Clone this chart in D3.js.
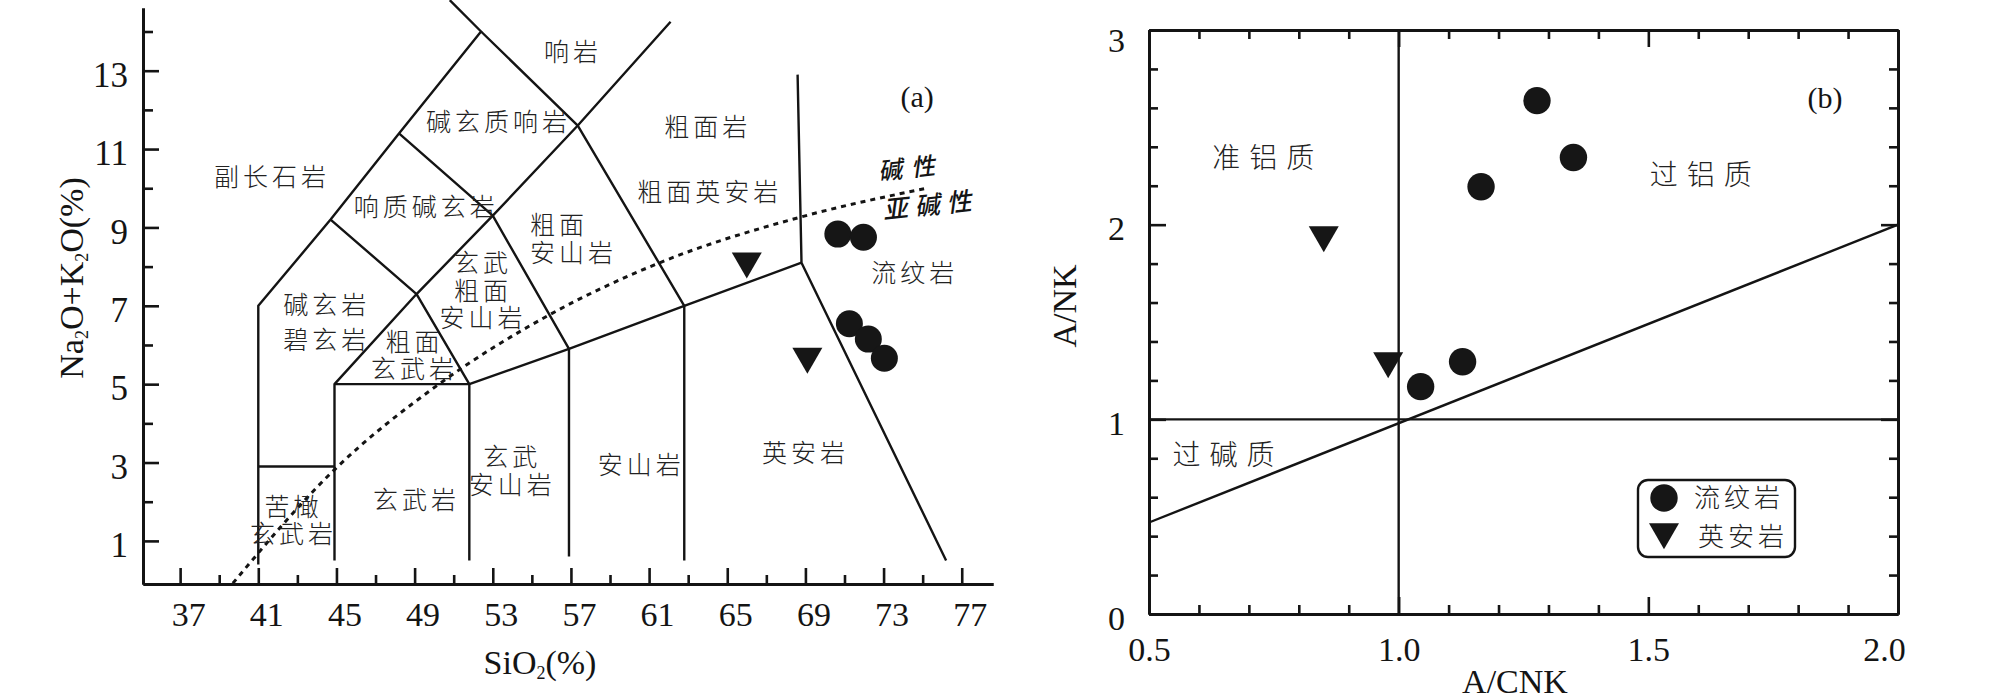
<!DOCTYPE html>
<html>
<head>
<meta charset="utf-8">
<script src="https://cdnjs.cloudflare.com/ajax/libs/d3/7.8.5/d3.min.js"></script>
<style>
body { margin: 0; background: #fff; }
svg { display: block; }
</style>
</head>
<body>
<svg width="2008" height="696"></svg>
<script>
// ---- panel (a): TAS diagram ----
var siTicks = [37, 41, 45, 49, 53, 57, 61, 65, 69, 73, 77];
var siMinor = [39, 43, 47, 51, 55, 59, 63, 67, 71, 75];
var alkTicks = [1, 3, 5, 7, 9, 11, 13];
var alkMinor = [2, 4, 6, 8, 10, 12, 14];

// field boundaries (SiO2, Na2O+K2O)
var tasLines = [
  [[41, 0.4], [41, 7], [44.7, 9.2], [48.2, 11.4], [52.4, 14], [50.8, 14.8]],
  [[41, 2.9], [44.9, 2.9]],
  [[44.9, 0.5], [44.9, 5], [51.8, 5], [51.8, 0.5]],
  [[44.9, 5], [49.1, 7.3], [51.8, 5]],
  [[44.7, 9.2], [49.1, 7.3], [53, 9.3], [57.35, 11.6], [62.1, 14.25]],
  [[48.2, 11.4], [53, 9.3], [56.9, 5.9], [56.9, 0.6]],
  [[51.8, 5], [56.9, 5.9], [62.8, 7], [68.8, 8.1]],
  [[52.4, 14], [57.35, 11.6], [62.8, 7], [62.8, 0.5]],
  [[68.6, 12.9], [68.8, 8.1], [76.2, 0.5]]
];
var alkalineLine = [[39.7, -0.08], [44.8, 2.77], [50.3, 5.02], [55.9, 6.77], [61.5, 8.09], [68.8, 9.27], [75.2, 10.0]];

var rhyoSi = [70.66, 71.97, 71.25, 72.22, 73.04];
var rhyoAlk = [8.83, 8.75, 6.54, 6.15, 5.66];
var daciteSi = [66.0, 69.1];
var daciteAlk = [8.14, 5.71];

// field names with their place in data units
var tasLabels = [
  {t: ["响岩"], x: 57.1, y: 13.48},
  {t: ["碱玄质响岩"], x: 53.3, y: 11.69},
  {t: ["副长石岩"], x: 41.7, y: 10.29},
  {t: ["响质碱玄岩"], x: 49.6, y: 9.52},
  {t: ["粗面岩"], x: 64.0, y: 11.56},
  {t: ["粗面英安岩"], x: 64.1, y: 9.91},
  {t: ["粗面", "安山岩"], x: 54.9, y: 9.06, anchor: "start"},
  {t: ["玄武", "粗面", "安山岩"], x: 52.5, y: 8.09},
  {t: ["碱玄岩", "碧玄岩"], x: 44.5, y: 7.02, gap: 1.4},
  {t: ["粗面", "玄武岩"], x: 49.0, y: 6.08},
  {t: ["苦橄", "玄武岩"], x: 42.8, y: 1.87},
  {t: ["玄武岩"], x: 49.1, y: 2.05},
  {t: ["玄武", "安山岩"], x: 54.0, y: 3.14},
  {t: ["安山岩"], x: 60.6, y: 2.94},
  {t: ["英安岩"], x: 69.0, y: 3.25},
  {t: ["流纹岩"], x: 74.6, y: 7.84}
];

// ---- panel (b): A/NK vs A/CNK ----
var acnkTicks = [0.5, 1.0, 1.5, 2.0];
var acnkMinor = [0.6, 0.7, 0.8, 0.9, 1.1, 1.2, 1.3, 1.4, 1.6, 1.7, 1.8, 1.9];
var ankTicks = [0, 1, 2, 3];
var ankMinor = [0.2, 0.4, 0.6, 0.8, 1.2, 1.4, 1.6, 1.8, 2.2, 2.4, 2.6, 2.8];
var shandLines = [
  [[1, 0], [1, 3]],
  [[0.5, 1], [2, 1.0]],
  [[0.5, 0.47], [2, 2]]
];
var rhyoACNK = [1.277, 1.165, 1.35, 1.044, 1.128];
var rhyoANK = [2.637, 2.195, 2.345, 1.168, 1.296];
var daciteACNK = [0.85, 0.979];
var daciteANK = [1.947, 1.30];
var shandLabels = [
  {t: ["准铝质"], x: 0.738, y: 2.342},
  {t: ["过铝质"], x: 1.614, y: 2.255},
  {t: ["过碱质"], x: 0.658, y: 0.817}
];
var legendNames = ["流纹岩", "英安岩"];

var serif = "'Liberation Serif', 'DejaVu Serif', serif";
var zh = "'Noto Sans CJK SC', sans-serif";
var ink = "#141414";

var container = d3.select("svg");

function styleAxis(g, fs) {
  g.attr("font-family", serif).attr("font-size", fs);
  g.select(".domain").attr("stroke", ink).attr("stroke-width", 3);
  g.selectAll(".tick line").attr("stroke", ink).attr("stroke-width", 2.6);
  g.selectAll(".tick text").attr("fill", ink).style("font-family", serif).style("font-size", fs + "px");
}

function drawLabels(list, xs, ys, fs, ls) {
  list.forEach(function (d) {
    var txt = container.append("text")
      .attr("text-anchor", d.anchor || "middle")
      .style("font-family", zh).style("font-weight", 300)
      .style("font-size", fs + "px").style("letter-spacing", ls + "px")
      .attr("fill", "#222");
    d.t.forEach(function (line, i) {
      txt.append("tspan").attr("x", xs(d.x)).attr("y", ys(d.y))
        .attr("dy", (0.36 + i * (d.gap || 1.1)) + "em").text(line);
    });
  });
}

var tri = d3.symbol().type(d3.symbolTriangle).size(390);

// ===== panel (a) =====
var xa = d3.scaleLinear().domain([35.1, 78.6]).range([143, 993]);
var ya = d3.scaleLinear().domain([-0.1, 14.6]).range([584, 8]);

var ga = container.append("g").attr("transform", "translate(0,584)")
  .call(d3.axisBottom(xa).tickValues(siMinor).tickSize(-9).tickSizeOuter(0).tickFormat(""));
styleAxis(ga, 34);
ga = container.append("g").attr("transform", "translate(0,584)")
  .call(d3.axisBottom(xa).tickValues(siTicks).tickSize(-16).tickSizeOuter(0).tickPadding(18).tickFormat(d3.format("d")));
styleAxis(ga, 34);
ga.selectAll(".tick text").attr("dx", 8);

ga = container.append("g").attr("transform", "translate(143,0)")
  .call(d3.axisLeft(ya).tickValues(alkMinor).tickSize(-10).tickSizeOuter(0).tickFormat(""));
styleAxis(ga, 34);
ga = container.append("g").attr("transform", "translate(143,0)")
  .call(d3.axisLeft(ya).tickValues(alkTicks).tickSize(-16).tickSizeOuter(0).tickPadding(15).tickFormat(d3.format("d")));
styleAxis(ga, 35);
ga.selectAll(".tick text").attr("dy", "0.45em");

var lineA = d3.line().x(function (d) { return xa(d[0]); }).y(function (d) { return ya(d[1]); });
container.append("g").selectAll("path").data(tasLines).enter().append("path")
  .attr("d", lineA).attr("fill", "none").attr("stroke", ink).attr("stroke-width", 2.4).attr("stroke-linejoin", "round");
container.append("path").datum(alkalineLine)
  .attr("d", lineA.curve(d3.curveMonotoneX)).attr("fill", "none").attr("stroke", ink)
  .attr("stroke-width", 3).attr("stroke-dasharray", "5,5");

drawLabels(tasLabels, xa, ya, 25, 4);

container.append("text").attr("x", xa(74.72)).attr("y", ya(12.33)).attr("dy", "0.35em")
  .attr("text-anchor", "middle").style("font-family", serif).style("font-size", "30px").attr("fill", ink).text("(a)");
container.append("text").attr("transform", "translate(" + xa(74.4) + "," + ya(10.52) + ") rotate(-6)")
  .attr("dy", "0.36em").attr("text-anchor", "middle")
  .style("font-family", zh).style("font-style", "italic").style("font-weight", 500)
  .style("font-size", "24px").style("letter-spacing", "9px").attr("fill", ink).text("碱性");
container.append("text").attr("transform", "translate(" + xa(75.4) + "," + ya(9.57) + ") rotate(-6)")
  .attr("dy", "0.36em").attr("text-anchor", "middle")
  .style("font-family", zh).style("font-style", "italic").style("font-weight", 500)
  .style("font-size", "25px").style("letter-spacing", "7px").attr("fill", ink).text("亚碱性");

container.append("g").selectAll("circle").data(rhyoSi).enter().append("circle")
  .attr("cx", function (d) { return xa(d); })
  .attr("cy", function (d, i) { return ya(rhyoAlk[i]); })
  .attr("r", 13.5).attr("fill", "#161616");
container.append("g").selectAll("path").data(daciteSi).enter().append("path")
  .attr("d", tri)
  .attr("transform", function (d, i) { return "translate(" + xa(d) + "," + ya(daciteAlk[i]) + ") rotate(180)"; })
  .attr("fill", "#161616");

// axis titles (a)
var t = container.append("text").attr("transform", "translate(83,278) rotate(-90)")
  .attr("text-anchor", "middle").style("font-family", serif).style("font-size", "34px").attr("fill", ink);
t.append("tspan").text("Na");
t.append("tspan").attr("baseline-shift", "-25%").style("font-size", "18px").text("2");
t.append("tspan").text("O+K");
t.append("tspan").attr("baseline-shift", "-25%").style("font-size", "18px").text("2");
t.append("tspan").text("O(%)");

t = container.append("text").attr("x", 540).attr("y", 674)
  .attr("text-anchor", "middle").style("font-family", serif).style("font-size", "34px").attr("fill", ink);
t.append("tspan").text("SiO");
t.append("tspan").attr("baseline-shift", "-25%").style("font-size", "18px").text("2");
t.append("tspan").text("(%)");

// ===== panel (b) =====
var xb = d3.scaleLinear().domain([0.5, 2]).range([1149, 1898]);
var yb = d3.scaleLinear().domain([0, 3]).range([614, 30]);

var gb = container.append("g").attr("transform", "translate(0,614)")
  .call(d3.axisBottom(xb).tickValues(acnkMinor).tickSize(-9).tickSizeOuter(0).tickFormat(""));
styleAxis(gb, 34);
gb = container.append("g").attr("transform", "translate(0,614)")
  .call(d3.axisBottom(xb).tickValues(acnkTicks).tickSize(-17).tickSizeOuter(0).tickPadding(23).tickFormat(d3.format(".1f")));
styleAxis(gb, 34);
gb.selectAll(".tick text").filter(function (d) { return d === 2; }).attr("dx", -14);

gb = container.append("g").attr("transform", "translate(0,30)")
  .call(d3.axisTop(xb).tickValues(acnkMinor).tickSize(-9).tickSizeOuter(0).tickFormat(""));
styleAxis(gb, 34);
gb = container.append("g").attr("transform", "translate(0,30)")
  .call(d3.axisTop(xb).tickValues(acnkTicks).tickSize(-17).tickSizeOuter(0).tickFormat(""));
styleAxis(gb, 34);

gb = container.append("g").attr("transform", "translate(1149,0)")
  .call(d3.axisLeft(yb).tickValues(ankMinor).tickSize(-9).tickSizeOuter(0).tickFormat(""));
styleAxis(gb, 34);
gb = container.append("g").attr("transform", "translate(1149,0)")
  .call(d3.axisLeft(yb).tickValues(ankTicks).tickSize(-17).tickSizeOuter(0).tickPadding(24).tickFormat(d3.format("d")));
styleAxis(gb, 34);
gb.selectAll(".tick text").attr("dy", function (d) { return d === 3 ? "0.62em" : "0.45em"; });

gb = container.append("g").attr("transform", "translate(1898,0)")
  .call(d3.axisRight(yb).tickValues(ankMinor).tickSize(-9).tickSizeOuter(0).tickFormat(""));
styleAxis(gb, 34);
gb = container.append("g").attr("transform", "translate(1898,0)")
  .call(d3.axisRight(yb).tickValues(ankTicks).tickSize(-17).tickSizeOuter(0).tickFormat(""));
styleAxis(gb, 34);

var lineB = d3.line().x(function (d) { return xb(d[0]); }).y(function (d) { return yb(d[1]); });
container.append("g").selectAll("path").data(shandLines).enter().append("path")
  .attr("d", lineB).attr("fill", "none").attr("stroke", ink).attr("stroke-width", 2.4);

drawLabels(shandLabels, xb, yb, 28, 9);
container.append("text").attr("x", xb(1.854)).attr("y", yb(2.655)).attr("dy", "0.35em")
  .attr("text-anchor", "middle").style("font-family", serif).style("font-size", "30px").attr("fill", ink).text("(b)");

container.append("g").selectAll("circle").data(rhyoACNK).enter().append("circle")
  .attr("cx", function (d) { return xb(d); })
  .attr("cy", function (d, i) { return yb(rhyoANK[i]); })
  .attr("r", 13.7).attr("fill", "#161616");
container.append("g").selectAll("path").data(daciteACNK).enter().append("path")
  .attr("d", tri)
  .attr("transform", function (d, i) { return "translate(" + xb(d) + "," + yb(daciteANK[i]) + ") rotate(180)"; })
  .attr("fill", "#161616");

// legend
var lg = container.append("g").attr("transform", "translate(1638,480)");
lg.append("rect").attr("width", 157).attr("height", 77).attr("rx", 10)
  .attr("fill", "#fff").attr("stroke", ink).attr("stroke-width", 2.4);
lg.append("circle").attr("cx", 26).attr("cy", 18).attr("r", 13.7).attr("fill", "#161616");
lg.append("path").attr("d", tri).attr("transform", "translate(26,52) rotate(180)").attr("fill", "#161616");
lg.selectAll("text").data(legendNames).enter().append("text")
  .attr("x", function (d, i) { return 56 + i * 4; })
  .attr("y", function (d, i) { return 18 + i * 39; })
  .attr("dy", "0.36em")
  .style("font-family", zh).style("font-weight", 300).style("font-size", "26px").style("letter-spacing", "4px")
  .attr("fill", "#222").text(function (d) { return d; });

// axis titles (b)
container.append("text").attr("transform", "translate(1076,306) rotate(-90)")
  .attr("text-anchor", "middle").style("font-family", serif).style("font-size", "34px").attr("fill", ink).text("A/NK");
container.append("text").attr("x", 1515).attr("y", 693)
  .attr("text-anchor", "middle").style("font-family", serif).style("font-size", "34px").attr("fill", ink).text("A/CNK");
</script>
</body>
</html>
